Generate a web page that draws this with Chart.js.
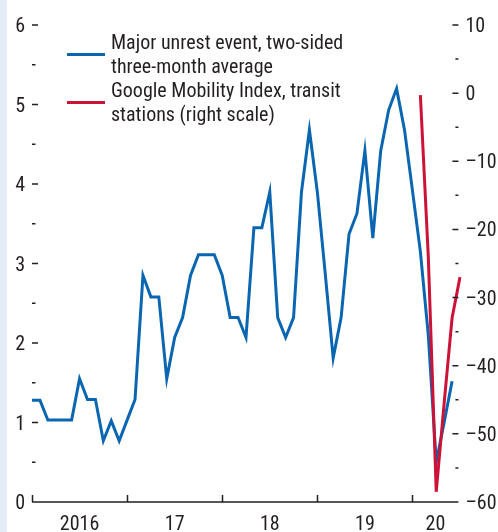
<!DOCTYPE html>
<html>
<head>
<meta charset="utf-8">
<script src="https://cdn.jsdelivr.net/npm/chart.js@4.4.1/dist/chart.umd.min.js"></script>
<style>
  html, body { margin: 0; padding: 0; }
  body {
    width: 498px; height: 532px; overflow: hidden;
    background: linear-gradient(to right, #e4ecf7 0 7px, #ffffff 7px);
  }
  #chart { display: block; }
</style>
</head>
<body>
<canvas id="chart" width="498" height="532"></canvas>
<script>
// monthly, Jan 2016 .. Jul 2020
const months = [];
for (let yr = 2016; yr <= 2020; yr++) {
  for (let m = 1; m <= 12; m++) {
    if (yr === 2020 && m > 7) break;
    months.push(`${yr}-${String(m).padStart(2, "0")}`);
  }
}

// Major unrest event, two-sided three-month average (left scale)
const unrest = [
  1.28, 1.28, 1.03, 1.03, 1.03, 1.03, 1.55, 1.29, 1.29, 0.77, 1.02, 0.77,
  1.03, 1.29, 2.85, 2.58, 2.58, 1.55, 2.07, 2.32, 2.85, 3.11, 3.11, 3.11,
  2.85, 2.32, 2.32, 2.07, 3.45, 3.45, 3.90, 2.32, 2.07, 2.32, 3.90, 4.68,
  3.90, 2.87, 1.81, 2.32, 3.37, 3.63, 4.42, 3.32, 4.42, 4.93, 5.20, 4.68,
  3.92, 3.15, 2.10, 0.50, 1.00, 1.52, null,
];

// Google Mobility Index, transit stations (right scale)
const mobility = [
  null, null, null, null, null, null, null, null, null, null, null, null,
  null, null, null, null, null, null, null, null, null, null, null, null,
  null, null, null, null, null, null, null, null, null, null, null, null,
  null, null, null, null, null, null, null, null, null, null, null, null,
  null, -0.3, -24, -58.5, -45.5, -33, -27,
];

const yearLabels = ["2016", "17", "18", "19", "20"];
const yearStarts = [0, 12, 24, 36, 48];
const yearEnds = [12, 24, 36, 48, 53.8];

const leftTicks = [0, 1, 2, 3, 4, 5, 6];
const leftMinor = [0.5, 1.5, 2.5, 3.5, 4.5, 5.5];
const rightTicks = [10, 0, -10, -20, -30, -40, -50, -60];
const rightMinor = [5, -5, -15, -25, -35, -45, -55];

const legendItems = [
  { color: "#0b66b2", lines: ["Major unrest event, two-sided", "three-month average"] },
  { color: "#cc1236", lines: ["Google Mobility Index, transit", "stations (right scale)"] },
];

const FONT = '20px "Liberation Sans Narrow", "Arial Narrow", "Roboto Condensed", sans-serif';
const INK = "#231f20";

function fmtRight(v) {
  return v < 0 ? `\u2013${Math.abs(v)}` : String(v);
}

// axes, ticks and legend drawn in the IMF style
const axesPlugin = {
  id: "imfAxes",
  afterDraw(chart) {
    const { ctx, chartArea } = chart;
    const { left, bottom } = chartArea;
    const { x, y, y1 } = chart.scales;
    // the axis frame ends a little before the last July point
    const axisRight = x.getPixelForValue(53.8);

    ctx.save();
    ctx.strokeStyle = INK;
    ctx.fillStyle = INK;
    ctx.lineWidth = 1.5;
    ctx.font = FONT;

    // x axis line + upward ticks
    ctx.beginPath();
    ctx.moveTo(left, bottom);
    ctx.lineTo(axisRight, bottom);
    yearStarts.forEach((i) => {
      const px = Math.round(x.getPixelForValue(i)) + 0.5;
      ctx.moveTo(px, bottom);
      ctx.lineTo(px, bottom - 7);
    });
    ctx.stroke();

    ctx.textAlign = "center";
    ctx.textBaseline = "alphabetic";
    yearLabels.forEach((lab, k) => {
      const mid = (x.getPixelForValue(yearStarts[k]) + x.getPixelForValue(yearEnds[k])) / 2;
      ctx.fillText(lab, mid, bottom + 28);
    });

    // left scale
    ctx.beginPath();
    leftTicks.forEach((v) => {
      const py = y.getPixelForValue(v);
      if (v > 0) {
        ctx.moveTo(left, py);
        ctx.lineTo(left + 6, py);
      }
    });
    leftMinor.forEach((v) => {
      const py = y.getPixelForValue(v);
      ctx.moveTo(left, py);
      ctx.lineTo(left + 3.5, py);
    });
    ctx.stroke();
    ctx.textAlign = "right";
    leftTicks.forEach((v) => {
      ctx.fillText(String(v), left - 7, y.getPixelForValue(v) + 7);
    });

    // right scale
    ctx.beginPath();
    rightTicks.forEach((v) => {
      const py = y1.getPixelForValue(v);
      if (v > -60) {
        ctx.moveTo(axisRight, py);
        ctx.lineTo(axisRight - 6, py);
      }
    });
    rightMinor.forEach((v) => {
      const py = y1.getPixelForValue(v);
      ctx.moveTo(axisRight, py);
      ctx.lineTo(axisRight - 3, py);
    });
    ctx.stroke();
    ctx.textAlign = "left";
    rightTicks.forEach((v) => {
      ctx.fillText(fmtRight(v), axisRight + 7, y1.getPixelForValue(v) + 7);
    });

    // legend
    ctx.lineWidth = 3;
    legendItems.forEach((it, k) => {
      const base = 49 + k * 48;
      ctx.strokeStyle = it.color;
      ctx.beginPath();
      ctx.moveTo(67, base + 5.5);
      ctx.lineTo(105, base + 5.5);
      ctx.stroke();
      ctx.fillStyle = INK;
      it.lines.forEach((line, j) => ctx.fillText(line, 111, base + j * 24));
    });

    ctx.restore();
  },
};

Chart.defaults.devicePixelRatio = 1;

new Chart(document.getElementById("chart"), {
  type: "line",
  plugins: [axesPlugin],
  data: {
    labels: months,
    datasets: [
      {
        label: "Major unrest event, two-sided three-month average",
        data: unrest,
        borderColor: "#0b66b2",
        borderWidth: 3,
        pointRadius: 0,
        tension: 0,
        yAxisID: "y",
        order: 1,
      },
      {
        label: "Google Mobility Index, transit stations (right scale)",
        data: mobility,
        borderColor: "#cc1236",
        borderWidth: 3,
        pointRadius: 0,
        tension: 0,
        yAxisID: "y1",
        order: 0,
      },
    ],
  },
  options: {
    responsive: false,
    animation: false,
    layout: { padding: { left: 32, right: 38, top: 25, bottom: 30 } },
    plugins: { legend: { display: false }, tooltip: { enabled: false } },
    scales: {
      x: { type: "category", offset: false, display: false },
      y: { min: 0, max: 6, display: false },
      y1: { min: -60, max: 10, display: false, position: "right" },
    },
  },
});
</script>
</body>
</html>
